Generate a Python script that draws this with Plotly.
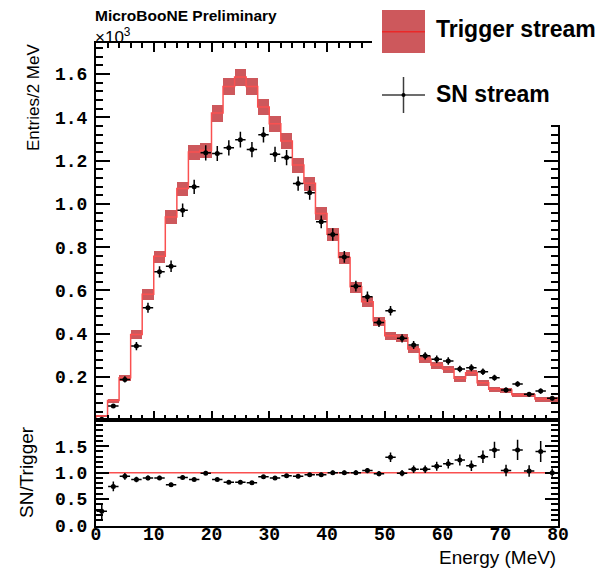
import plotly.graph_objects as go

# ---------------- data ----------------
bin_edges = [2 * i for i in range(41)]            # Energy (MeV), 2 MeV bins
bin_centers = [2 * i + 1 for i in range(40)]

trigger = [20, 92, 197, 397, 583, 758, 940, 1071, 1240, 1248,
           1420, 1543, 1586, 1543, 1448, 1371, 1291, 1180, 1095, 956,
           860, 752, 617, 548, 460, 391, 381, 329, 283, 255,
           237, 194, 220, 174, 143, 140, 118, 118, 98, 98]
trigger_err = [5, 10, 14, 20, 24, 28, 31, 33, 35, 35,
               38, 39, 40, 39, 38, 37, 36, 34, 33, 31,
               29, 27, 25, 23, 21, 20, 20, 18, 17, 16,
               15, 14, 15, 13, 12, 12, 11, 11, 10, 10]

sn = [5, 66, 189, 343, 520, 686, 712, 971, 1079, 1236,
      1233, 1259, 1297, 1251, 1320, 1229, 1214, 1094, 1051, 917,
      859, 755, 620, 571, 452, 506, 379, 348, 298, 282,
      274, 237, 243, 224, 197, 140, 168, 120, 135, 102]
sn_err = [2, 8, 14, 19, 23, 26, 27, 31, 33, 35,
          35, 35, 36, 35, 36, 35, 35, 33, 32, 30,
          29, 27, 25, 24, 21, 22, 19, 19, 17, 17,
          17, 15, 16, 15, 14, 12, 13, 11, 12, 10]

ratio = [0.27, 0.74, 0.93, 0.87, 0.90, 0.90, 0.77, 0.91, 0.87, 0.99,
         0.87, 0.82, 0.82, 0.81, 0.92, 0.90, 0.94, 0.93, 0.96, 0.96,
         1.00, 1.00, 1.00, 1.04, 0.98, 1.29, 0.99, 1.065, 1.065, 1.12,
         1.17, 1.24, 1.13, 1.30, 1.43, 1.04, 1.43, 1.03, 1.40, 1.00]
ratio_err = [0.15, 0.09, 0.065, 0.05, 0.045, 0.04, 0.04, 0.035, 0.03, 0.03,
             0.03, 0.03, 0.03, 0.03, 0.03, 0.03, 0.03, 0.035, 0.035, 0.04,
             0.04, 0.04, 0.045, 0.05, 0.05, 0.09, 0.06, 0.07, 0.07, 0.085,
             0.09, 0.105, 0.10, 0.12, 0.155, 0.11, 0.19, 0.11, 0.20, 0.08]
ratio_ref = 1.0

main_yticks = [200, 400, 600, 800, 1000, 1200, 1400, 1600]
main_yticktext = ["0.2", "0.4", "0.6", "0.8", "1.0", "1.2", "1.4", "1.6"]

# ---------------- geometry helpers ----------------
W, H = 604, 569
def px(x):
    return x / W
def py(y):
    return 1 - y / H

BAND = "rgb(205,88,92)"
LINE = "rgb(250,80,80)"
TICKFONT = dict(family="Liberation Mono", size=18, color="black", weight="bold")

fig = go.Figure()

# trigger band (per-bin boxes)
fig.add_trace(go.Bar(
    x=bin_centers,
    y=[2 * e for e in trigger_err],
    base=[t - e for t, e in zip(trigger, trigger_err)],
    width=2, marker=dict(color=BAND, line=dict(width=0)),
    xaxis="x", yaxis="y", showlegend=False, hoverinfo="skip"))

# trigger step line
fig.add_trace(go.Scatter(
    x=[bin_edges[0]] + bin_edges,
    y=[0] + trigger + [trigger[-1]],
    mode="lines", line=dict(color=LINE, width=1.5, shape="hv"),
    xaxis="x", yaxis="y", showlegend=False, hoverinfo="skip"))

# SN stream points
fig.add_trace(go.Scatter(
    x=bin_centers, y=sn, mode="markers",
    marker=dict(color="black", size=5),
    error_y=dict(type="data", array=sn_err, color="black", thickness=1.5, width=0),
    error_x=dict(type="constant", value=0.9, color="black", thickness=1.5, width=0),
    xaxis="x", yaxis="y", showlegend=False))

# ratio points
fig.add_trace(go.Scatter(
    x=bin_centers, y=ratio, mode="markers",
    marker=dict(color="black", size=5),
    error_y=dict(type="data", array=ratio_err, color="black", thickness=1.5, width=0),
    error_x=dict(type="constant", value=0.9, color="black", thickness=1.5, width=0),
    xaxis="x2", yaxis="y2", showlegend=False))

fig.add_shape(type="line", xref="x2", yref="y2", x0=bin_edges[0], x1=bin_edges[-1],
              y0=ratio_ref, y1=ratio_ref, line=dict(color=LINE, width=1.5), layer="below")

xdom = [px(96), px(558)]
ydom_main = [py(420.3), py(42.7)]
ydom_ratio = [py(525.5), py(420.3)]

common_axis = dict(showline=True, linecolor="black", linewidth=2, showgrid=False,
                   zeroline=False, tickcolor="black", tickwidth=2, automargin=False)

fig.update_layout(
    template="none",
    width=W, height=H, margin=dict(l=0, r=0, t=0, b=0, pad=0, autoexpand=False),
    paper_bgcolor="white", plot_bgcolor="white", bargap=0,
    xaxis=dict(domain=xdom, range=[0, 80], anchor="y", mirror="ticks", ticks="inside",
               showticklabels=False, tickmode="linear", tick0=0, dtick=10, ticklen=9,
               minor=dict(ticks="inside", dtick=2, ticklen=5, tickwidth=1.5, tickcolor="black"),
               **common_axis),
    yaxis=dict(domain=ydom_main, range=[0, 1745], anchor="x", mirror="ticks", ticks="inside",
               tickmode="array", tickvals=main_yticks, ticktext=main_yticktext,
               ticklen=14, tickfont=TICKFONT, ticklabelstandoff=3,
               minor=dict(ticks="inside", tickmode="linear", tick0=0, dtick=40,
                          ticklen=7, tickwidth=1.5, tickcolor="black"),
               **common_axis),
    xaxis2=dict(domain=xdom, range=[0, 80], anchor="y2", mirror=True, ticks="",
                tickmode="linear", tick0=0, dtick=10, ticklen=0,
                tickfont=TICKFONT, ticklabelstandoff=-9,
                **common_axis),
    yaxis2=dict(domain=ydom_ratio, range=[0, 1.99], anchor="x2", mirror="ticks", ticks="inside",
                tickmode="linear", tick0=0, dtick=0.5, tickformat=".1f",
                ticklen=13, tickfont=TICKFONT, ticklabelstandoff=3,
                minor=dict(ticks="inside", dtick=0.1, ticklen=7, tickwidth=1.5,
                           tickcolor="black"),
                **common_axis),
)

# ---------------- legend (ROOT-style, drawn by hand) ----------------
shapes = [
    dict(type="rect", xref="paper", yref="paper", x0=px(372), x1=px(604),
         y0=py(125), y1=py(0), fillcolor="white", line=dict(width=0), layer="above"),
    dict(type="rect", xref="paper", yref="paper", x0=px(382), x1=px(425),
         y0=py(53), y1=py(10), fillcolor=BAND, line=dict(width=0), layer="above"),
    dict(type="line", xref="paper", yref="paper", x0=px(382), x1=px(425),
         y0=py(31.7), y1=py(31.7), line=dict(color="rgb(235,40,40)", width=1.5), layer="above"),
    dict(type="line", xref="paper", yref="paper", x0=px(382), x1=px(425),
         y0=py(95), y1=py(95), line=dict(color="rgb(60,60,60)", width=1.5), layer="above"),
    dict(type="line", xref="paper", yref="paper", x0=px(403.5), x1=px(403.5),
         y0=py(113), y1=py(77), line=dict(color="rgb(60,60,60)", width=1.5), layer="above"),
    dict(type="circle", xref="paper", yref="paper", x0=px(401.5), x1=px(405.5),
         y0=py(97), y1=py(93), fillcolor="black", line=dict(width=0), layer="above"),
]
for s in shapes:
    fig.add_shape(**s)

SANS = "Liberation Sans"
ann = [
    dict(text="<b>MicroBooNE Preliminary</b>", x=px(93), y=py(15), xanchor="left", yanchor="middle",
         font=dict(family=SANS, size=15.5, color="black")),
    dict(text="×10<sup>3</sup>", x=px(93), y=py(35.5), xanchor="left", yanchor="middle",
         font=dict(family=SANS, size=17, color="black")),
    dict(text="Entries/2 MeV", x=px(33.5), y=py(97.5), xanchor="center", yanchor="middle",
         textangle=-90, font=dict(family=SANS, size=17, color="black")),
    dict(text="SN/Trigger", x=px(26), y=py(472), xanchor="center", yanchor="middle",
         textangle=-90, font=dict(family=SANS, size=19, color="black")),
    dict(text="Energy (MeV)", x=px(558), y=py(557), xanchor="right", yanchor="middle",
         font=dict(family=SANS, size=19, color="black")),
    dict(text="<b>Trigger stream</b>", x=px(434), y=py(29), xanchor="left", yanchor="middle",
         font=dict(family=SANS, size=23, color="black")),
    dict(text="<b>SN stream</b>", x=px(434), y=py(94), xanchor="left", yanchor="middle",
         font=dict(family=SANS, size=23, color="black")),
]
for a in ann:
    fig.add_annotation(xref="paper", yref="paper", showarrow=False, **a)

fig.write_html("out.html")
